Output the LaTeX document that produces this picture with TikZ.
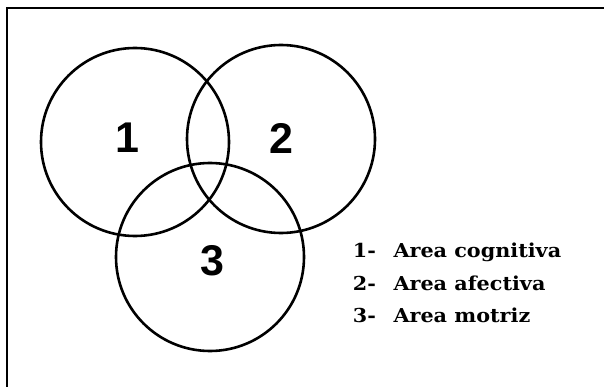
\documentclass[tikz,border=0pt]{standalone}
\usepackage{fontspec}
\setmainfont{DejaVu Serif}
\newfontfamily\digitfont{Liberation Sans}
\newfontfamily\legendfont[FakeStretch=1.08]{DejaVu Serif}
\begin{document}
\begin{tikzpicture}[x=1pt,y=-1pt,
  venn/.style={circle,draw=black,line width=2.6pt,minimum size=188pt,inner sep=0pt},
  digit/.style={font=\digitfont\bfseries\fontsize{43}{43}\selectfont,inner sep=0pt},
  legend/.style={font=\legendfont\bfseries\fontsize{19.2}{19.2}\selectfont,inner sep=0pt,anchor=base west},
  frameline/.style={line width=1.8pt}]
\useasboundingbox (0,0) rectangle (604,387);
\coordinate (ftl) at (7,8);
\coordinate (ftr) at (604,8);
\coordinate (fbl) at (7,387);
\draw[frameline] (ftr) -- (ftl) -- (fbl);
\node[venn] (c1) at (135,142) {};
\node[venn] (c2) at (281,139) {};
\node[venn] (c3) at (210,257) {};
\node[digit] (n1) at (127.5,138) {1};
\node[digit] (n2) at (281,138) {2};
\node[digit] (n3) at (212,261) {3};
\node[legend] (k1) at (352.7,257.3) {1-};
\node[legend] (t1) at (393.3,257.3) {Area cognitiva};
\node[legend] (k2) at (352.7,290) {2-};
\node[legend] (t2) at (393.3,290) {Area afectiva};
\node[legend] (k3) at (352.7,322.5) {3-};
\node[legend] (t3) at (393.3,322.5) {Area motriz};
\end{tikzpicture}
\end{document}
